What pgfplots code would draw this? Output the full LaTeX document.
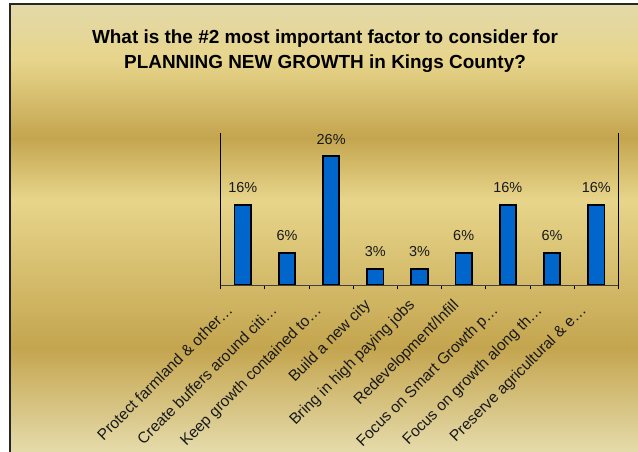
\documentclass[border=0pt]{standalone}
\usepackage{fontspec}
\setmainfont{Liberation Sans}
\usepackage{pgfplots}
\pgfplotsset{compat=1.18}
\definecolor{pale}{HTML}{E5DBAA}
\definecolor{palet}{HTML}{E3D9A9}
\definecolor{darkband}{HTML}{C4A54F}
\definecolor{lightband}{HTML}{E7D58B}
\definecolor{barblue}{HTML}{0066CC}
\begin{document}
\begin{tikzpicture}[x=1bp,y=1bp]
\useasboundingbox (0,0) rectangle (638,452);
\fill[white] (0,0) rectangle (638,452);
% background gradient bands
\fill[bottom color=pale, top color=darkband] (9,0) rectangle (638,104.5);
\fill[bottom color=darkband, top color=lightband] (9,104) rectangle (638,252.5);
\fill[bottom color=lightband, top color=darkband] (9,252) rectangle (638,314.5);
\fill[bottom color=darkband, top color=lightband] (9,314) rectangle (638,392.5);
\fill[bottom color=lightband, top color=palet] (9,392) rectangle (638,448.5);
\draw[line width=1.7bp, black!85] (9.8,-2) -- (9.8,448.3) -- (640,448.3);
% title
\node[anchor=base, font=\bfseries\fontsize{19}{23}\selectfont] at (325,408) {What is the \#2 most important factor to consider for};
\node[anchor=base, font=\bfseries\fontsize{19}{23}\selectfont] at (325,383.7) {PLANNING NEW GROWTH in Kings County?};
\begin{axis}[
  at={(220.7bp,167bp)}, anchor=south west,
  scale only axis, width=397.6bp, height=152bp,
  xmin=-0.5, xmax=8.5, ymin=0, ymax=30.5,
  /pgf/number format/assume math mode=true,
  axis line style={draw=none},
  ytick=\empty,
  xtick pos=lower,
  xtick={0,...,8},
  xticklabels={Protect farmland \& other…\kern7bp, Create buffers around citi…\kern7bp, Keep growth contained to…\kern7bp, Build a new city, Bring in high paying jobs, Redevelopment/Infill, Focus on Smart Growth p…\kern7bp, Focus on growth along th…\kern7bp, Preserve agricultural \& e…\kern7bp},
  major tick length=0pt,
  minor xtick={-0.5,0.5,...,8.5},
  minor tick length=4.5bp,
  tick align=outside,
  xtick style={black, line width=0.8bp},
  xticklabel style={xshift=-4bp, yshift=-21bp, rotate=45, anchor=base east, inner sep=0pt, font=\fontsize{15.6}{17}\selectfont, text=black!90},
  ybar, bar width=16.5bp,
  clip=false,
  nodes near coords={\pgfmathprintnumber[fixed,precision=0]{\pgfplotspointmeta}\%},
  every node near coord/.append style={anchor=base, yshift=12bp, inner sep=0pt, font=\fontsize{14.5}{16}\selectfont, text=black!90},
]
\addplot[fill=barblue, draw=black, line width=1.8bp, bar shift=0pt] coordinates {
 (0,16.13) (1,6.45) (2,25.81) (3,3.23) (4,3.23) (5,6.45) (6,16.13) (7,6.45) (8,16.13)};
\draw[black, line width=0.9bp] (axis cs:-0.5,30.5) -- (axis cs:-0.5,0);
\draw[black, line width=0.9bp] (axis cs:8.5,30.5) -- (axis cs:8.5,0);
\draw[black!75, line width=0.9bp] (axis cs:-0.5,0) -- (axis cs:8.5,0);
\end{axis}
\end{tikzpicture}
\end{document}
